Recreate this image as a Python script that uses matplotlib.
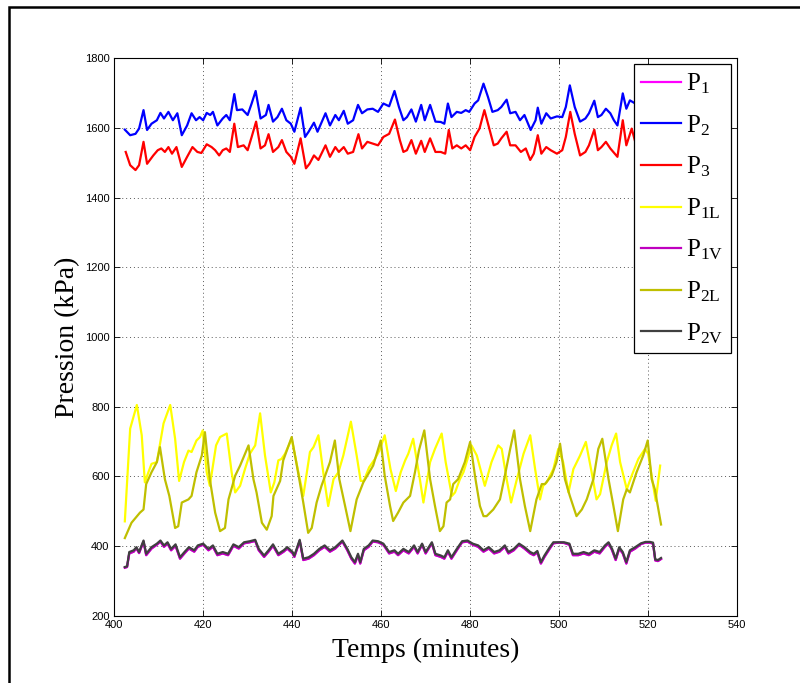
import matplotlib
matplotlib.use("Agg")
import matplotlib.pyplot as plt
from matplotlib.patches import Rectangle

# ---------------- data ----------------
t_p2 = [402.5,403.7,404.9,405.7,406.7,407.5,408.5,409.7,410.5,411.3,412.3,413.3,414.3,415.3,416.5,417.5,418.5,419.3,420.1,420.9,
        421.7,422.3,423.3,424.5,425.3,426.1,427.1,427.7,428.9,430.1,431.0,431.9,433.0,434.2,434.8,435.8,436.8,437.8,438.8,439.8,
        440.6,442.0,443.0,443.8,445.0,445.8,447.6,448.6,449.8,450.6,451.7,452.6,453.8,454.9,455.8,457.0,458.2,459.4,460.6,461.9,
        463.1,464.1,465.1,465.9,466.9,467.9,469.1,469.9,471.1,472.3,473.5,474.3,475.1,475.9,477.1,478.1,479.1,479.9,481.1,481.9,
        483.1,484.1,485.1,486.3,487.1,488.3,489.1,490.3,491.3,492.3,493.7,494.8,495.3,496.1,497.2,498.2,499.6,500.8,501.6,502.5,
        503.6,504.8,506.0,506.8,508.0,508.8,509.6,510.6,511.6,512.4,513.2,514.4,515.2,516.0,517.2,518.5,520.0,521.5,523.0]
p2 = [1595,1579,1583,1598,1651,1594,1612,1622,1643,1627,1646,1622,1642,1579,1607,1642,1622,1631,1622,1643,
      1637,1646,1607,1627,1637,1622,1697,1651,1653,1637,1670,1706,1627,1637,1666,1618,1631,1655,1622,1612,
      1589,1658,1574,1589,1615,1589,1642,1607,1637,1622,1649,1612,1622,1666,1642,1653,1655,1646,1670,1662,
      1706,1660,1622,1631,1653,1618,1666,1622,1666,1618,1617,1612,1670,1631,1646,1643,1651,1646,1670,1679,
      1727,1689,1646,1651,1660,1681,1642,1646,1622,1637,1594,1622,1658,1612,1642,1627,1633,1631,1660,1722,
      1660,1618,1627,1642,1678,1631,1637,1655,1642,1622,1607,1699,1655,1679,1670,1650,1640,1660,1640]

t_p3 = [402.7,403.7,404.9,405.7,406.7,407.5,408.9,409.9,410.7,411.5,412.3,413.1,414.1,415.3,416.5,417.7,418.8,419.7,420.9,422.0,
        422.8,423.7,424.5,425.3,426.1,427.1,427.9,429.2,430.1,431.0,432.0,433.0,434.0,434.8,435.8,437.0,437.8,438.8,439.8,440.6,
        442.0,443.2,444.0,445.0,446.0,447.6,448.6,449.8,450.6,451.7,452.6,453.8,455.0,455.8,457.0,458.2,459.4,460.6,461.9,463.2,
        464.3,465.1,465.9,466.9,467.9,469.1,469.9,471.1,472.3,473.5,474.5,475.3,476.1,477.1,478.1,479.1,480.1,481.1,482.2,483.3,
        484.3,485.4,486.3,487.1,488.3,489.1,490.3,491.5,492.6,493.6,494.4,495.3,496.1,497.2,498.2,499.6,500.8,501.6,502.6,503.6,
        504.8,506.0,506.8,508.0,508.8,509.6,510.6,511.6,512.6,513.2,514.4,515.2,516.4,517.2,518.5,520.0,521.5,523.0]
p3 = [1531,1493,1479,1493,1560,1497,1521,1536,1541,1531,1545,1526,1545,1488,1517,1545,1531,1528,1553,1545,
      1536,1521,1536,1541,1531,1612,1545,1550,1536,1574,1618,1541,1550,1582,1531,1545,1565,1531,1517,1497,
      1570,1484,1497,1521,1508,1550,1517,1545,1531,1545,1526,1531,1582,1541,1560,1555,1550,1574,1583,1624,
      1565,1531,1536,1565,1526,1563,1531,1570,1531,1531,1526,1594,1541,1550,1541,1550,1536,1574,1598,1651,
      1603,1550,1555,1570,1589,1550,1550,1531,1541,1508,1526,1579,1526,1545,1536,1526,1536,1574,1646,1583,
      1521,1531,1550,1595,1536,1545,1560,1541,1526,1517,1622,1550,1598,1560,1550,1545,1560,1540]

t_p1l = [402.5,403.7,405.2,406.3,407.0,407.8,408.5,409.7,411.2,412.7,413.8,414.7,415.8,416.8,417.5,418.6,419.4,420.0,420.9,421.6,
         423.0,423.9,425.4,426.5,427.3,428.4,429.5,430.6,431.8,432.9,434.0,435.3,436.1,437.0,437.7,438.5,440.0,441.5,442.6,444.1,
         444.9,446.0,447.3,448.2,449.4,450.5,451.6,453.3,454.6,455.5,456.2,457.4,458.7,459.7,460.9,462.2,463.4,464.5,465.5,466.2,
         467.3,468.8,469.6,471.1,472.2,473.7,474.6,476.0,476.7,477.8,478.6,479.3,480.4,481.6,483.4,484.9,486.4,487.2,488.3,489.3,
         490.6,492.1,493.6,494.7,495.8,496.5,497.3,498.8,499.9,501.0,502.2,503.3,504.8,506.1,507.4,508.5,509.3,510.8,511.9,512.9,
         513.8,515.3,516.4,517.9,519.4,520.1,521.0,521.8,522.8]
p1l = [471,737,805,718,583,612,636,641,752,805,708,587,641,674,670,703,713,732,612,573,
       689,713,723,612,554,573,621,665,689,781,660,554,583,646,650,665,708,612,544,670,
       684,718,592,515,592,612,660,757,660,587,587,626,650,674,718,621,558,612,646,665,
       708,592,525,641,679,723,641,544,554,592,612,641,689,660,573,641,689,679,592,525,
       592,665,718,621,534,573,583,621,679,641,554,621,660,699,612,534,549,641,689,723,
       641,563,602,650,679,665,592,530,631]

t_p2l = [402.5,404.0,405.9,406.7,407.3,408.5,409.7,410.4,411.5,412.5,413.8,414.5,415.3,416.8,417.5,418.6,419.8,420.5,421.6,422.8,
         423.9,425.0,425.8,427.3,428.4,430.3,431.4,432.1,433.3,434.4,435.5,435.9,437.4,438.1,440.0,441.7,442.6,443.7,444.5,445.6,
         446.7,448.6,449.7,450.7,452.0,453.2,454.6,456.1,458.3,460.0,460.9,462.1,462.8,463.9,465.1,466.6,467.7,468.6,469.8,471.1,
         472.2,473.3,474.1,474.8,475.6,476.3,477.4,478.9,480.1,481.3,482.3,483.1,483.8,485.3,486.8,487.9,489.1,490.0,491.3,492.4,
         493.6,495.0,496.2,496.9,498.4,499.5,500.3,501.4,502.5,504.0,505.2,506.3,507.8,508.9,509.8,511.2,512.3,513.3,514.5,515.3,
         516.0,517.5,519.0,520.0,520.9,521.6,523.0]
p2l = [423,467,496,505,578,612,641,684,592,544,452,457,525,534,544,612,660,727,592,496,
       443,452,534,602,631,689,592,554,467,447,486,544,587,646,713,592,525,438,452,525,
       573,641,703,592,515,443,534,583,631,703,602,515,472,496,525,544,612,675,732,592,
       515,443,457,525,534,578,592,641,699,592,515,486,486,505,534,602,679,732,592,515,
       443,534,578,578,602,641,694,592,544,486,505,534,592,679,708,592,515,443,534,563,
       554,612,660,703,592,563,462]

t_low = [402.5,403.0,403.5,404.5,405.1,405.7,406.7,407.3,408.5,409.7,410.5,411.3,412.1,412.9,413.9,414.9,415.9,416.9,418.1,418.9,
         420.1,421.3,422.3,423.3,424.5,425.7,426.9,428.1,429.3,430.6,431.8,432.6,433.8,434.8,435.8,437.0,438.2,439.0,440.2,440.6,
         441.8,442.6,443.8,445.0,446.2,447.4,448.6,449.8,451.4,452.5,453.4,454.2,454.9,455.4,456.2,457.3,458.2,459.4,460.6,461.9,
         463.1,463.9,465.1,466.3,467.5,468.3,469.3,470.1,471.5,472.3,473.5,474.3,475.1,475.9,477.1,478.3,479.5,480.7,481.9,483.1,
         484.3,485.5,486.7,487.9,488.7,489.9,491.1,492.3,493.6,494.4,495.2,496.0,496.8,498.0,498.8,500.0,501.2,502.4,503.2,504.4,
         505.6,506.8,508.0,509.2,510.4,511.2,512.0,512.8,513.6,514.4,515.2,516.0,517.2,518.5,519.5,520.5,521.2,521.7,522.3,523.0]
p2v = [340,342,383,388,397,383,416,378,397,407,416,402,411,392,405,368,383,397,388,402,
       407,392,402,378,383,378,405,397,411,414,418,392,373,388,405,378,388,397,383,373,
       418,364,368,378,392,402,388,397,416,392,368,354,378,354,392,402,416,414,407,383,
       388,378,392,383,402,383,407,383,411,378,373,368,388,368,392,414,416,407,402,388,
       397,383,388,402,383,392,407,397,383,378,386,354,373,397,411,411,411,407,378,378,
       383,378,388,383,402,411,392,364,397,383,354,388,397,408,412,412,410,362,360,366]
p1v = [338,340,379,384,394,380,413,374,393,404,413,398,407,388,401,364,379,393,384,398,
       404,388,398,374,379,374,401,393,408,411,415,388,369,384,401,374,384,393,379,369,
       415,360,364,374,388,398,384,393,413,388,364,350,374,350,388,398,413,411,404,379,
       384,374,388,379,398,379,404,379,408,374,369,364,384,364,388,411,413,404,398,384,
       393,379,384,398,379,388,404,393,379,374,382,350,369,393,408,410,409,404,374,374,
       379,374,384,379,398,408,388,360,393,379,350,384,393,406,410,410,407,359,357,363]
p1 = p1v

labels = [r'$\mathrm{P}_{\mathrm{1}}$', r'$\mathrm{P}_{\mathrm{2}}$', r'$\mathrm{P}_{\mathrm{3}}$',
          r'$\mathrm{P}_{\mathrm{1L}}$', r'$\mathrm{P}_{\mathrm{1V}}$', r'$\mathrm{P}_{\mathrm{2L}}$',
          r'$\mathrm{P}_{\mathrm{2V}}$']
x_ticks = [400, 420, 440, 460, 480, 500, 520, 540]
y_ticks = [200, 400, 600, 800, 1000, 1200, 1400, 1600, 1800]

# ---------------- style ----------------
plt.rcParams['mathtext.fontset'] = 'custom'
plt.rcParams['mathtext.rm'] = 'Liberation Serif'
plt.rcParams['mathtext.it'] = 'Liberation Serif:italic'
plt.rcParams['font.family'] = ['Liberation Sans', 'DejaVu Sans']

W, H = 800, 683
fig = plt.figure(figsize=(W / 100, H / 100), dpi=100)
fig.patch.set_facecolor('white')

L, R, T, B = 113.7, 736.7, 58.2, 615.8
ax = fig.add_axes([L / W, 1 - B / H, (R - L) / W, (B - T) / H])

lw = 1.6
series = [(t_low, p1, '#FF00FF'), (t_p2, p2, '#0000FF'), (t_p3, p3, '#FF0000'),
          (t_p1l, p1l, '#FFFF00'), (t_low, p1v, '#BF00BF'), (t_p2l, p2l, '#BFBF00'),
          (t_low, p2v, '#404040')]
for (tt, vv, c), lab in zip(series, labels):
    ax.plot(tt, vv, color=c, lw=lw, label=lab)

ax.set_xlim(400, 540)
ax.set_ylim(200, 1800)
ax.set_xticks(x_ticks)
ax.set_yticks(y_ticks)
ax.tick_params(direction='in', length=4.5, width=0.6, top=True, right=True,
               labelsize=8, pad=3, colors='black')
for s in ax.spines.values():
    s.set_linewidth(0.8)
ax.grid(True, color='0.35', linestyle=(0, (1, 3)), linewidth=0.7)
ax.set_axisbelow(True)

ax.set_xlabel('Temps (minutes)', family='Liberation Serif', fontsize=20, labelpad=6)
ax.set_ylabel('Pression (kPa)', family='Liberation Serif', fontsize=20, labelpad=3)

leg = ax.legend(loc='upper right', bbox_to_anchor=(731 / W, 1 - 64 / H),
                bbox_transform=fig.transFigure, borderaxespad=0,
                fontsize=18, handlelength=1.6, handletextpad=0.2,
                labelspacing=0.68, borderpad=0.3, fancybox=False,
                framealpha=1, edgecolor='black')
leg.get_frame().set_linewidth(0.9)

# outer frame of the picture
fig.add_artist(Rectangle((9 / W, -0.5), 2.0, 0.5 + 1 - 7 / H, transform=fig.transFigure,
                         fill=False, lw=1.8, edgecolor='black', clip_on=False))

fig.savefig('out.png', dpi=100, facecolor='white')
